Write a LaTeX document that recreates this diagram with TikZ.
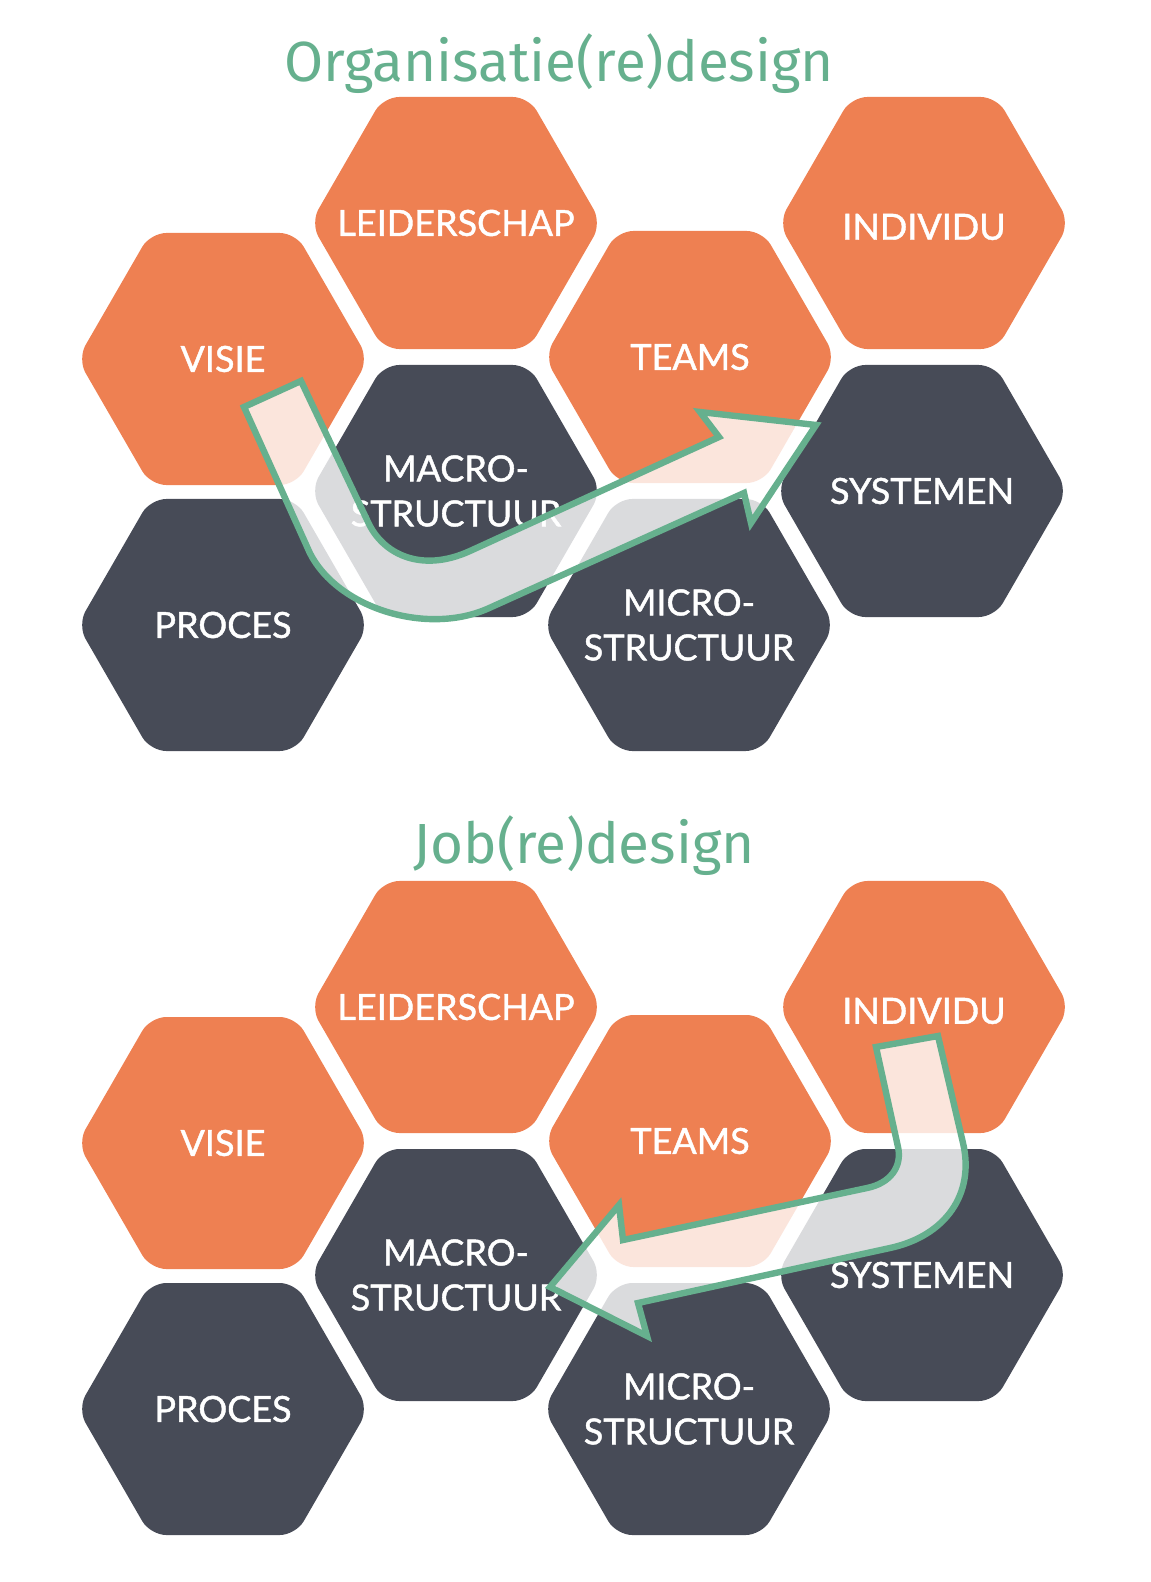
\documentclass[tikz,border=0pt]{standalone}
\usepackage{fontspec}
\setmainfont{Lato}
\newfontfamily\labelfont{Lato}[FakeBold=1.2]
\newfontfamily\titlefont{Fira Sans}
\usetikzlibrary{shapes.geometric}

\begin{document}
\begin{tikzpicture}[x=0.5pt, y=-0.5pt,
  hex/.style={regular polygon, regular polygon sides=6, minimum size=145.5pt,
    inner sep=0pt, rounded corners=8pt},
  hexorange/.style={hex, fill=orangefill},
  hexdark/.style={hex, fill=darkfill},
  hexlabel/.style={text=white, align=center, inner sep=0pt,
    font=\labelfont\fontsize{18}{22.5}\selectfont},
  titletext/.style={font=\titlefont\fontsize{28.3}{30}\selectfont, text=arrowgreen},
  flowarrow/.style={draw=arrowgreen, line width=3.2pt, fill=white, fill opacity=0.8, line join=miter}]
  % Define colors
  \definecolor{orangefill}{RGB}{238,128,82}
  \definecolor{darkfill}{RGB}{71,75,87}
  \definecolor{arrowgreen}{RGB}{102,176,142}

  \useasboundingbox (0,0) rectangle (1150,1582);

  % Organisatie(re)design
  \node[titletext] (titleA) at (559,64) {Organisatie(re)design};

  \node[hexorange] (leiderschapA) at (456,223) {};
  \node[hexorange] (individuA) at (924,223) {};
  \node[hexorange] (visieA) at (223,359) {};
  \node[hexorange] (teamsA) at (690,357) {};
  \node[hexdark] (macroA) at (456,491) {};
  \node[hexdark] (systemenA) at (922,491) {};
  \node[hexdark] (procesA) at (223,625) {};
  \node[hexdark] (microA) at (689,625) {};

  \node[hexlabel] (leiderschapAtext) at (leiderschapA) {LEIDERSCHAP};
  \node[hexlabel] (individuAtext) at ([yshift=-2pt]individuA) {INDIVIDU};
  \node[hexlabel] (visieAtext) at (visieA) {VISIE};
  \node[hexlabel] (teamsAtext) at (teamsA) {TEAMS};
  \node[hexlabel] (macroAtext) at (macroA) {MACRO-\\STRUCTUUR};
  \node[hexlabel] (systemenAtext) at (systemenA) {SYSTEMEN};
  \node[hexlabel] (procesAtext) at (procesA) {PROCES};
  \node[hexlabel] (microAtext) at (microA) {MICRO-\\STRUCTUUR};

  % Arrow from visie down and up to systemen
  \draw[flowarrow] (244,407) -- (301,381) -- (368,522)
    .. controls (382,553) and (420,573.8) .. (470,551)
    -- (719,437) -- (700,412) -- (816,425) -- (751,523) -- (744,493)
    -- (488.6,608.3) .. controls (427.2,635.9) and (338,608.4) .. (310,553.3)
    -- cycle;

  % Job(re)design
  \node[titletext] (titleB) at (584,846) {Job(re)design};

  \node[hexorange] (leiderschapB) at (456,1007) {};
  \node[hexorange] (individuB) at (924,1007) {};
  \node[hexorange] (visieB) at (223,1143) {};
  \node[hexorange] (teamsB) at (690,1141) {};
  \node[hexdark] (macroB) at (456,1275) {};
  \node[hexdark] (systemenB) at (922,1275) {};
  \node[hexdark] (procesB) at (223,1409) {};
  \node[hexdark] (microB) at (689,1409) {};

  \node[hexlabel] (leiderschapBtext) at (leiderschapB) {LEIDERSCHAP};
  \node[hexlabel] (individuBtext) at ([yshift=-2pt]individuB) {INDIVIDU};
  \node[hexlabel] (visieBtext) at (visieB) {VISIE};
  \node[hexlabel] (teamsBtext) at (teamsB) {TEAMS};
  \node[hexlabel] (macroBtext) at (macroB) {MACRO-\\STRUCTUUR};
  \node[hexlabel] (systemenBtext) at (systemenB) {SYSTEMEN};
  \node[hexlabel] (procesBtext) at (procesB) {PROCES};
  \node[hexlabel] (microBtext) at (microB) {MICRO-\\STRUCTUUR};

  % Arrow from individu down and left to macrostructuur
  \draw[flowarrow] (876,1047) -- (898,1147)
    .. controls (902.4,1166.9) and (890,1183.3) .. (867,1188)
    -- (623,1240) -- (619,1205) -- (550,1287) -- (647,1336) -- (638,1303)
    -- (890,1248) .. controls (945.7,1235.9) and (974.9,1193.9) .. (963,1143)
    -- (938,1036) -- cycle;

\end{tikzpicture}
\end{document}
